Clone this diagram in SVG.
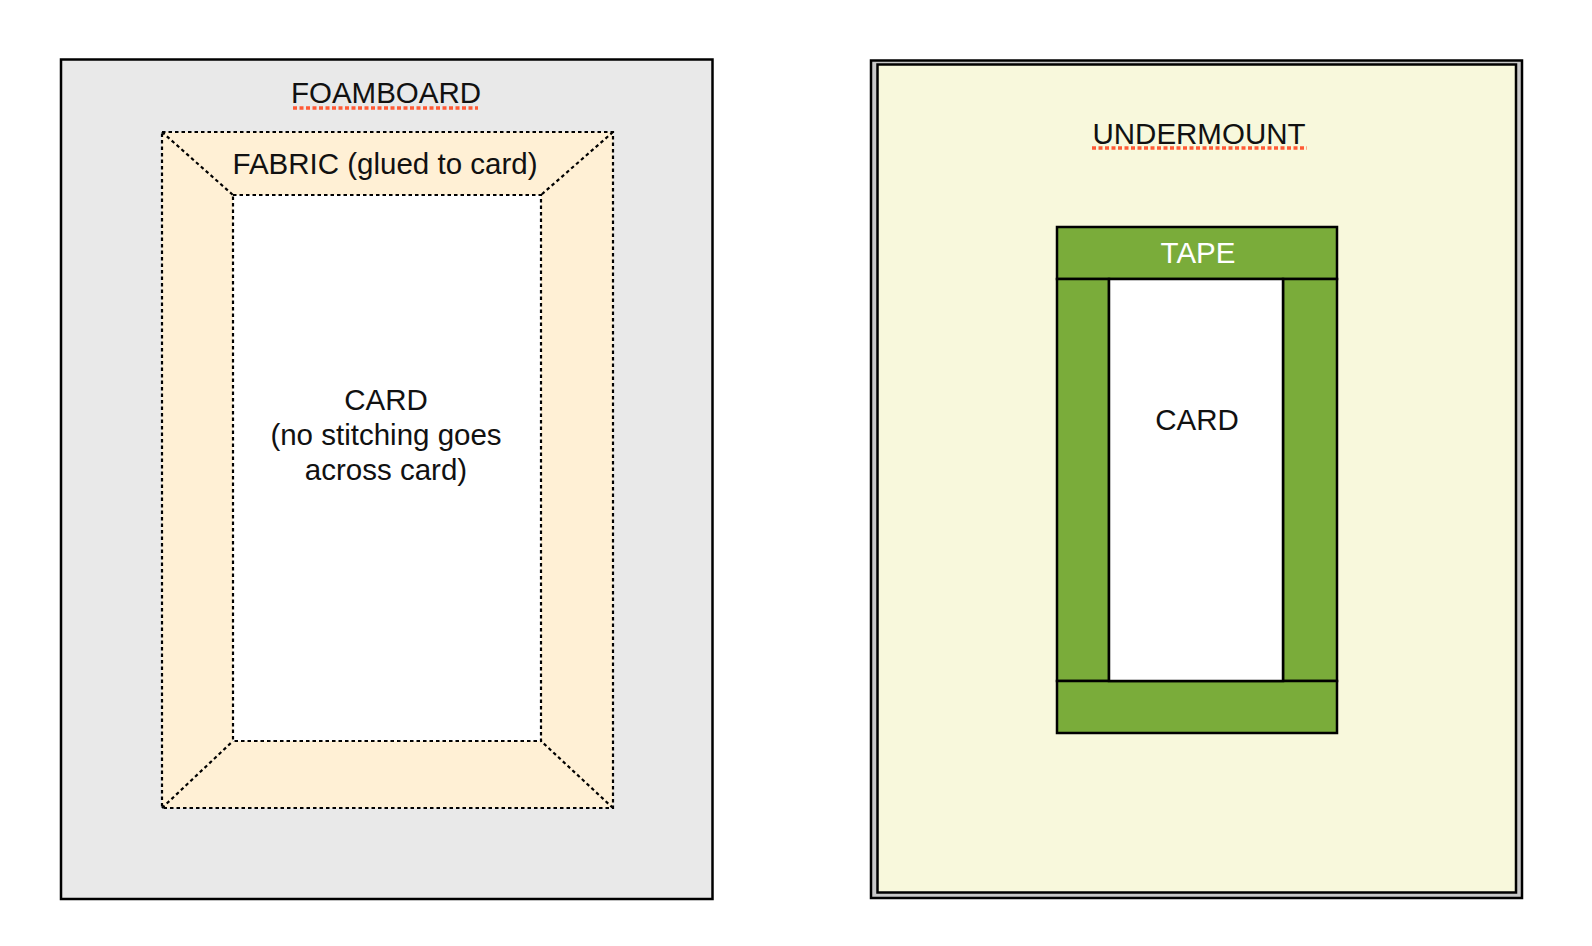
<svg xmlns="http://www.w3.org/2000/svg" width="1592" height="946" viewBox="0 0 1592 946">
<style>
.lbl{font-family:"Liberation Sans",Arial,sans-serif;font-size:29.5px;fill:#111;text-anchor:middle}
.wht{fill:#fff}
.dash{fill:none;stroke:#000;stroke-width:2.2;stroke-dasharray:3.5 3}
.spell{fill:none;stroke:#ff5a36;stroke-width:3.5;stroke-dasharray:4 2.5}
.tape{fill:#7aac3a;stroke:#000;stroke-width:2.5}
</style>
<rect width="1592" height="946" fill="#fff"/>
<g id="foamboard">
<rect x="61" y="59.5" width="651.5" height="839.5" fill="#e9e9e9" stroke="#000" stroke-width="2.5"/>
<text class="lbl" x="386" y="103">FOAMBOARD</text>
<line class="spell" x1="293" y1="108" x2="478" y2="108"/>
</g>
<g id="fabric">
<path d="M162,132 H613 V808 H162 Z M233,195 V741 H541 V195 Z" fill="#fff0d5" fill-rule="evenodd"/>
<rect class="dash" x="162" y="132" width="451" height="676"/>
<text class="lbl" x="385" y="174">FABRIC (glued to card)</text>
</g>
<g id="card-left">
<rect x="233" y="195" width="308" height="546" fill="#fff"/>
<rect class="dash" x="233" y="195" width="308" height="546"/>
<text class="lbl" x="386" y="410">CARD</text>
<text class="lbl" x="386" y="445">(no stitching goes</text>
<text class="lbl" x="386" y="480">across card)</text>
</g>
<g id="undermount">
<rect x="871" y="60.5" width="651" height="837.5" fill="#c8c8c8" stroke="#000" stroke-width="2.5"/>
<rect x="877.5" y="64.5" width="638.5" height="828" fill="#f8f8dc" stroke="#000" stroke-width="2.5"/>
<text class="lbl" x="1199" y="144">UNDERMOUNT</text>
<line class="spell" x1="1092" y1="148" x2="1307" y2="148"/>
</g>
<g id="tape">
<rect class="tape" x="1057" y="227" width="280" height="52"/>
<rect class="tape" x="1057" y="279" width="52" height="402"/>
<rect class="tape" x="1283" y="279" width="54" height="402"/>
<rect class="tape" x="1057" y="681" width="280" height="52"/>
<text class="lbl wht" x="1198" y="263">TAPE</text>
</g>
<g id="card-right">
<rect x="1109" y="279" width="174" height="402" fill="#fff" stroke="#000" stroke-width="2.5"/>
<text class="lbl" x="1197" y="430">CARD</text>
</g>
<g id="connectors">
<line class="dash" x1="162" y1="132" x2="233" y2="195"/>
<line class="dash" x1="613" y1="132" x2="541" y2="195"/>
<line class="dash" x1="162" y1="808" x2="233" y2="741"/>
<line class="dash" x1="613" y1="808" x2="541" y2="741"/>
</g>
</svg>
